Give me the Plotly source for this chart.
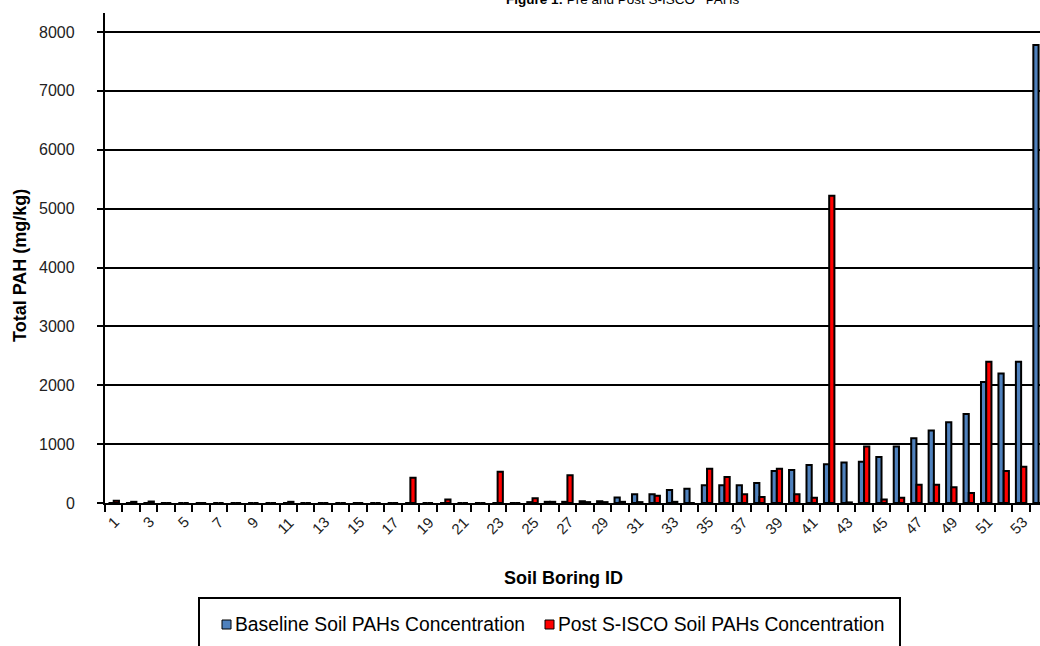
import plotly.graph_objects as go

# Soil boring IDs 1..54
borings = list(range(1, 55))

# Total PAH (mg/kg) before treatment
baseline = [0, 0, 0, 0, 0, 0, 0, 0, 0, 0,
            0, 0, 0, 0, 0, 0, 0, 0, 0, 0,
            0, 0, 0, 0, 15, 20, 20, 30, 30, 95,
            150, 150, 220, 240, 300, 300, 300, 340, 545, 560,
            645, 660, 690, 700, 780, 960, 1100, 1230, 1370, 1510,
            2055, 2200, 2400, 7780]

# Total PAH (mg/kg) after S-ISCO treatment
post_isco = [40, 20, 25, 0, 0, 0, 0, 0, 0, 0,
             20, 0, 0, 0, 0, 0, 0, 430, 0, 60,
             0, 0, 530, 0, 80, 20, 470, 15, 15, 20,
             15, 125, 20, 0, 580, 440, 150, 100, 580, 150,
             90, 5220, 10, 960, 60, 90, 310, 310, 267, 170,
             2400, 545, 617, 0]

y_ticks = [0, 1000, 2000, 3000, 4000, 5000, 6000, 7000, 8000]
x_tick_ids = [b for b in borings if b % 2 == 1]

FONT = "Liberation Sans, Arial, sans-serif"
BLUE = "#4F81BD"
RED = "#FF0000"
TICK_COLOR = "#222222"

W, H = 1040, 646
ML, MR, MT, MB = 105, 0, 13, 143
PW, PH = W - ML - MR, H - MT - MB
CAT_PX = 17.45


def px_x(p):
    return (p - ML) / PW


def px_y(p):
    return (H - MB - p) / PH


fig = go.Figure()
fig.add_trace(go.Bar(x=borings, y=baseline, name="Baseline Soil PAHs Concentration",
                     marker=dict(color=BLUE, line=dict(color="black", width=2)),
                     showlegend=False))
fig.add_trace(go.Bar(x=borings, y=post_isco, name="Post S-ISCO Soil PAHs Concentration",
                     marker=dict(color=RED, line=dict(color="black", width=2)),
                     showlegend=False))

fig.update_layout(
    width=W, height=H,
    margin=dict(l=ML, r=MR, t=MT, b=MB, pad=0),
    paper_bgcolor="white", plot_bgcolor="white",
    barmode="group", bargap=0.4, bargroupgap=0,
    font=dict(family=FONT, color=TICK_COLOR),
)

# category boundaries carry the tick marks; labels are placed as rotated text below
fig.update_xaxes(
    range=[0.5, 0.5 + PW / CAT_PX],
    tickmode="array", tickvals=[b - 0.5 for b in borings] + [54.5],
    ticks="outside", ticklen=7, tickwidth=2, tickcolor="black",
    showticklabels=False,
    showline=True, linecolor="black", linewidth=2,
    showgrid=False, zeroline=False, fixedrange=True,
)

fig.update_yaxes(
    range=[0, 8000 * PH / 471],
    tickmode="array", tickvals=y_ticks,
    ticks="outside", ticklen=6, tickwidth=2, tickcolor="black",
    showticklabels=False,
    showline=True, linecolor="black", linewidth=2,
    showgrid=True, gridcolor="black", gridwidth=2,
    zeroline=False, fixedrange=True,
)

annotations = [
    # chart title, running off the top edge of the page
    dict(text="<b>Figure 1:</b> Pre and Post S-ISCO<sup>®</sup> PAHs",
         xref="paper", yref="paper", x=px_x(623), y=px_y(0),
         xanchor="center", yanchor="middle", yshift=2, showarrow=False,
         font=dict(family=FONT, size=13.5, color="black")),
    dict(text="<b>Total PAH (mg/kg)</b>", textangle=-90,
         xref="paper", yref="paper", x=px_x(20), y=px_y(266),
         xanchor="center", yanchor="middle", showarrow=False,
         font=dict(family=FONT, size=18, color="black")),
    dict(text="<b>Soil Boring ID</b>",
         xref="paper", yref="paper", x=px_x(563), y=px_y(578),
         xanchor="center", yanchor="middle", showarrow=False,
         font=dict(family=FONT, size=18, color="black")),
    dict(text="Baseline Soil PAHs Concentration",
         xref="paper", yref="paper", x=px_x(233), y=px_y(625),
         xanchor="left", yanchor="middle", showarrow=False,
         font=dict(family=FONT, size=19.3, color="black")),
    dict(text="Post S-ISCO Soil PAHs Concentration",
         xref="paper", yref="paper", x=px_x(556), y=px_y(625),
         xanchor="left", yanchor="middle", showarrow=False,
         font=dict(family=FONT, size=19.3, color="black")),
]

# y tick labels
for v in y_ticks:
    annotations.append(dict(
        text=str(v), xref="paper", yref="y", x=px_x(77), y=v,
        xanchor="right", yanchor="middle", showarrow=False,
        font=dict(family=FONT, size=16, color=TICK_COLOR)))

# x tick labels, rotated 45 degrees under every other boring
for b in x_tick_ids:
    label = str(b)
    annotations.append(dict(
        text=label, textangle=-45, xref="x", yref="paper", x=b,
        y=px_y(522 if len(label) == 1 else 525),
        xshift=-1 if len(label) == 1 else -3,
        xanchor="center", yanchor="middle", showarrow=False,
        font=dict(family=FONT, size=15, color=TICK_COLOR)))

shapes = [
    # legend frame
    dict(type="rect", xref="paper", yref="paper",
         x0=px_x(199), x1=px_x(900), y0=px_y(598), y1=px_y(670),
         line=dict(color="black", width=2), fillcolor="rgba(0,0,0,0)", layer="above"),
    # legend swatches
    dict(type="rect", xref="paper", yref="paper",
         x0=px_x(222), x1=px_x(231), y0=px_y(620), y1=px_y(629),
         line=dict(color="black", width=1), fillcolor=BLUE),
    dict(type="rect", xref="paper", yref="paper",
         x0=px_x(545), x1=px_x(554), y0=px_y(620), y1=px_y(629),
         line=dict(color="black", width=1), fillcolor=RED),
]

fig.update_layout(annotations=annotations, shapes=shapes)

fig.write_html("out.html", config={"displayModeBar": False})
